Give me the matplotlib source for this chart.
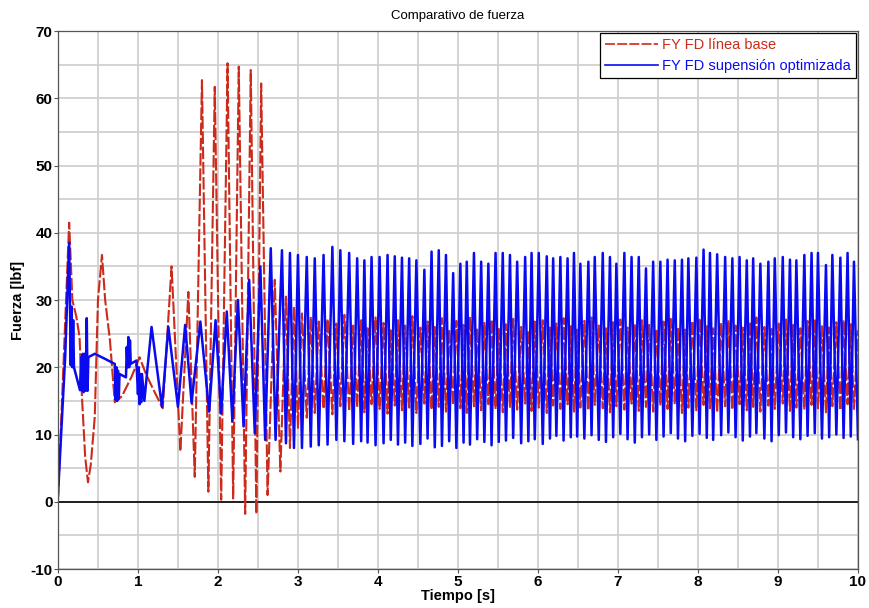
import numpy as np
import matplotlib
matplotlib.use('Agg')
import matplotlib.pyplot as plt
from matplotlib.ticker import MultipleLocator

# --- values (turning points of each trace) ---

# optimised suspension, start-up transient
blue_early_t = [0.00, 0.05, 0.09, 0.14, 0.16, 0.17, 0.18, 0.19, 0.20, 0.275,
                0.29, 0.30, 0.31, 0.32, 0.33, 0.345, 0.36, 0.37, 0.38, 0.46,
                0.58, 0.71, 0.72, 0.73, 0.74, 0.75, 0.76, 0.77, 0.85, 0.86,
                0.87, 0.88, 0.89, 0.90, 0.91, 0.98, 1.00, 1.01, 1.02, 1.03,
                1.04, 1.05, 1.08, 1.12, 1.17, 1.30, 1.38, 1.50, 1.59, 1.67,
                1.78, 1.89, 1.97, 2.04, 2.11, 2.18, 2.25, 2.32, 2.39, 2.46,
                2.53, 2.59, 2.66, 2.72]
blue_early_v = [1.0, 12.5, 21.5, 38.5, 20.3, 29.0, 20.0, 27.0, 20.0, 16.6,
                21.5, 16.5, 22.0, 16.3, 22.0, 16.5, 27.3, 16.5, 21.5, 22.0,
                21.3, 20.5, 15.2, 20.0, 15.0, 19.5, 15.3, 19.0, 18.5, 23.0,
                20.0, 24.5, 20.0, 24.0, 20.5, 21.0, 16.0, 20.0, 14.5, 19.0,
                14.8, 19.0, 15.0, 20.0, 26.0, 14.1, 26.0, 14.1, 26.3, 14.7,
                26.8, 13.4, 27.0, 13.1, 28.3, 12.0, 30.0, 11.2, 33.0, 10.2,
                35.0, 9.2, 37.7, 9.2]

# optimised suspension, steady oscillation: peaks and troughs
blue_peak_t = [2.80, 2.90, 3.00, 3.11, 3.21, 3.32, 3.43, 3.53, 3.64, 3.74,
               3.83, 3.92, 4.02, 4.12, 4.21, 4.30, 4.39, 4.48, 4.58, 4.67,
               4.76, 4.85, 4.94, 5.03, 5.11, 5.20, 5.29, 5.38, 5.47, 5.56,
               5.65, 5.74, 5.84, 5.92, 6.01, 6.11, 6.19, 6.28, 6.37, 6.45,
               6.53, 6.63, 6.71, 6.81, 6.90, 6.98, 7.08, 7.17, 7.26, 7.35,
               7.44, 7.53, 7.62, 7.71, 7.80, 7.88, 7.98, 8.07, 8.15, 8.24,
               8.34, 8.43, 8.52, 8.61, 8.69, 8.78, 8.88, 8.96, 9.06, 9.15,
               9.23, 9.33, 9.42, 9.50, 9.60, 9.68, 9.78, 9.87, 9.95]
blue_peak_v = [37.4, 37.0, 36.7, 36.4, 36.2, 36.7, 37.9, 37.4, 37.0, 36.2,
               35.9, 36.4, 36.4, 36.7, 36.5, 36.3, 36.2, 35.9, 34.5, 37.2,
               37.4, 36.7, 34.0, 35.4, 35.7, 37.0, 35.7, 35.4, 37.0, 37.0,
               36.7, 35.7, 36.4, 37.0, 37.0, 36.5, 36.2, 36.4, 36.2, 37.0,
               35.4, 35.7, 36.4, 37.0, 36.4, 35.4, 37.0, 36.4, 36.4, 34.7,
               35.7, 35.7, 36.0, 35.9, 36.0, 36.2, 36.3, 37.5, 37.0, 36.8,
               36.4, 36.2, 36.4, 35.9, 36.2, 35.4, 35.7, 36.2, 36.4, 36.0,
               35.9, 36.7, 37.0, 37.0, 35.2, 36.7, 36.3, 37.0, 35.7]
blue_trough_t = [2.85, 2.95, 3.05, 3.16, 3.26, 3.37, 3.48, 3.58, 3.69, 3.79,
                 3.87, 3.97, 4.07, 4.16, 4.25, 4.34, 4.43, 4.53, 4.62, 4.71,
                 4.80, 4.89, 4.98, 5.07, 5.15, 5.24, 5.33, 5.42, 5.51, 5.60,
                 5.69, 5.79, 5.88, 5.96, 6.06, 6.15, 6.23, 6.32, 6.41, 6.49,
                 6.58, 6.67, 6.76, 6.85, 6.94, 7.03, 7.12, 7.21, 7.30, 7.39,
                 7.48, 7.57, 7.66, 7.75, 7.84, 7.93, 8.02, 8.11, 8.19, 8.29,
                 8.38, 8.47, 8.56, 8.65, 8.73, 8.83, 8.92, 9.01, 9.10, 9.19,
                 9.28, 9.37, 9.46, 9.55, 9.64, 9.73, 9.82, 9.91, 10.0]
blue_trough_v = [8.7, 8.0, 8.0, 8.2, 8.4, 8.5, 9.2, 9.0, 8.6, 9.0,
                 8.8, 8.4, 8.7, 9.2, 8.5, 8.8, 8.3, 8.6, 9.4, 8.1,
                 8.3, 9.0, 8.0, 8.8, 8.5, 9.3, 8.9, 8.4, 8.9, 9.1,
                 9.5, 8.7, 9.0, 9.3, 8.6, 9.4, 9.8, 9.1, 9.6, 9.7,
                 9.4, 9.9, 9.2, 8.9, 9.6, 10.1, 9.3, 8.8, 9.6, 10.0,
                 9.2, 9.7, 10.2, 9.4, 9.0, 9.8, 10.1, 9.5, 9.2, 9.9,
                 10.3, 9.6, 9.1, 9.7, 10.2, 9.4, 9.0, 9.9, 10.3, 9.6,
                 9.3, 9.8, 10.2, 9.4, 9.6, 10.0, 9.5, 9.7, 9.3]

# baseline, start-up transient
red_early_t = [0.00, 0.14, 0.18, 0.23, 0.27, 0.30, 0.34, 0.375, 0.41, 0.46,
               0.50, 0.55, 0.59, 0.65, 0.71, 0.80, 0.92, 1.02, 1.10, 1.20,
               1.31, 1.42, 1.53, 1.63, 1.71, 1.80, 1.88, 1.96, 2.04, 2.12,
               2.19, 2.26, 2.34, 2.41, 2.48, 2.54, 2.62, 2.71, 2.78]
red_early_v = [0.0, 41.5, 30.0, 27.5, 24.5, 15.6, 6.7, 2.9, 5.5, 12.6,
               30.0, 36.7, 30.0, 24.0, 14.8, 15.7, 18.6, 21.5, 19.0, 16.5,
               13.9, 35.0, 7.5, 31.2, 3.7, 62.7, 1.5, 61.7, 0.3, 65.2,
               0.5, 64.7, -1.8, 64.2, -1.8, 62.2, 1.0, 33.0, 4.5]

# baseline, steady oscillation (peaks sit near the blue troughs and vice versa)
red_peak_v = [30.5, 29.0, 28.0, 27.5, 26.8, 27.2, 26.5, 27.8, 26.2, 27.0,
              25.8, 27.4, 26.6, 25.5, 27.0, 26.2, 27.6, 25.9, 26.8, 26.0,
              27.3, 25.6, 26.9, 26.3, 27.5, 25.8, 26.6, 27.1, 25.7, 26.4,
              27.2, 26.0, 25.5, 26.8, 27.0, 25.9, 26.5, 27.3, 26.1, 25.6,
              26.9, 27.4, 26.2, 25.8, 26.7, 27.1, 25.9, 26.4, 27.0, 26.3,
              25.7, 26.8, 27.2, 26.0, 25.6, 26.9, 27.3, 26.1, 25.8, 26.6,
              27.0, 26.2, 25.9, 26.8, 27.4, 26.0, 25.7, 26.5, 27.1, 26.3,
              25.8, 26.9, 27.2, 26.1, 25.9, 26.7, 27.0, 26.4, 25.5]
red_trough_v = [8.0, 11.0, 12.5, 13.2, 13.8, 13.0, 14.2, 13.5, 14.0, 13.3,
                14.5, 13.8, 13.1, 14.3, 13.6, 14.0, 13.2, 14.6, 13.7, 14.1,
                13.4, 14.4, 13.9, 13.2, 14.2, 13.6, 14.5, 13.8, 13.3, 14.1,
                13.7, 14.6, 13.5, 14.0, 13.2, 14.3, 13.8, 14.5, 13.4, 14.0,
                13.6, 14.4, 13.9, 13.3, 14.2, 13.7, 14.6, 13.5, 14.1, 13.4,
                14.3, 13.8, 14.5, 13.2, 14.0, 13.6, 14.4, 13.9, 13.3, 14.2,
                13.7, 14.5, 13.6, 14.1, 13.4, 14.3, 13.8, 14.6, 13.5, 14.0,
                13.7, 14.4, 13.9, 13.3, 14.2, 13.6, 14.5, 13.8]

label_red = 'FY FD línea base'
label_blue = 'FY FD supensión optimizada'


def merge(*pairs):
    t = np.concatenate([np.asarray(p[0], float) for p in pairs])
    v = np.concatenate([np.asarray(p[1], float) for p in pairs])
    order = np.argsort(t, kind='stable')
    return t[order], v[order]


blue_t, blue_v = merge((blue_early_t, blue_early_v),
                       (blue_peak_t, blue_peak_v),
                       (blue_trough_t, blue_trough_v))
red_t, red_v = merge((red_early_t, red_early_v),
                     (blue_trough_t, red_peak_v),
                     (blue_peak_t[1:], red_trough_v))

plt.rcParams['font.family'] = ['Liberation Sans', 'DejaVu Sans']
plt.rcParams['axes.unicode_minus'] = False

fig = plt.figure(figsize=(8.69, 6.08), dpi=100)
ax = fig.add_axes([0.0667, 0.0641, 0.9206, 0.8849])

ax.plot(red_t, red_v, color='#cc2a1a', lw=1.5, dashes=(6, 1.3), label=label_red)
ax.plot(blue_t, blue_v, color='#0a0af0', lw=1.8, label=label_blue)
ax.axhline(0, color='black', lw=1.2, zorder=1.5)

ax.set_xlim(0, 10)
ax.set_ylim(-10, 70)
ax.xaxis.set_major_locator(MultipleLocator(1))
ax.xaxis.set_minor_locator(MultipleLocator(0.5))
ax.yaxis.set_major_locator(MultipleLocator(10))
ax.yaxis.set_minor_locator(MultipleLocator(5))
ax.grid(which='both', color='#d0d0d0', lw=1.3)
ax.set_axisbelow(True)
ax.tick_params(which='both', length=3, width=0.8, color='#555555', labelsize=11, pad=1)
ax.tick_params(which='minor', length=0)
for lab in ax.get_xticklabels() + ax.get_yticklabels():
    lab.set_fontweight('bold')
for s in ax.spines.values():
    s.set_color('#555555')
    s.set_linewidth(0.9)

ax.set_title('Comparativo de fuerza', fontsize=9.5, pad=9)
ax.set_xlabel('Tiempo [s]', fontsize=10.5, fontweight='bold', labelpad=0)
ax.set_ylabel('Fuerza [lbf]', fontsize=10.5, fontweight='bold', labelpad=4)

leg = ax.legend(loc='upper right', fontsize=10.5, handlelength=3.6, fancybox=False,
                framealpha=1, edgecolor='black', borderaxespad=0.15,
                borderpad=0.35, labelspacing=0.45, handletextpad=0.3,
                labelcolor='linecolor')
leg.get_frame().set_linewidth(0.9)
for line in leg.get_lines():
    line.set_linewidth(1.2)

fig.savefig('out.png', dpi=100)
plt.close(fig)
